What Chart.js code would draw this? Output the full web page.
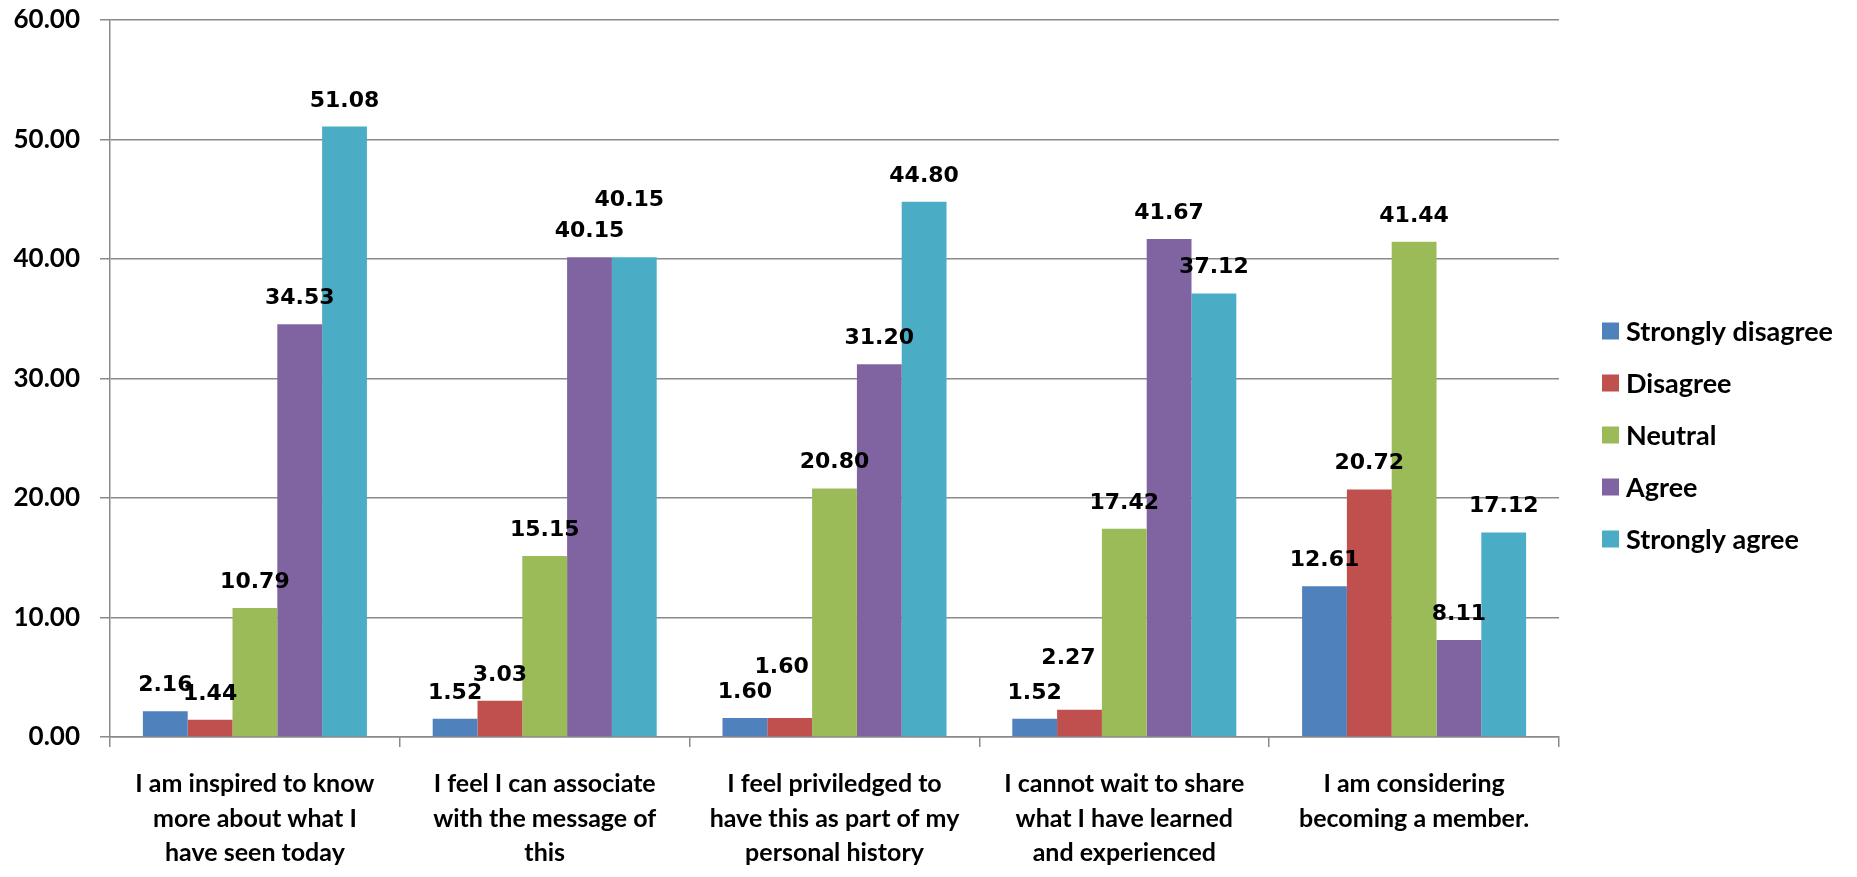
<!DOCTYPE html>
<html>
<head>
<meta charset="utf-8">
<title>Survey responses</title>
<script src="https://cdn.jsdelivr.net/npm/chart.js@4.4.1/dist/chart.umd.min.js"></script>
<style>
  html, body { margin: 0; padding: 0; background: #fff; }
  canvas { display: block; }
</style>
</head>
<body>
<canvas id="surveyChart" width="1857" height="877"></canvas>
<script>
// Question labels, already split into the lines they wrap to
const questions = [
    ['I am inspired to know', 'more about what I', 'have seen today'],
    ['I feel I can associate', 'with the message of', 'this'],
    ['I feel priviledged to', 'have this as part of my', 'personal history'],
    ['I cannot wait to share', 'what I have learned', 'and experienced'],
    ['I am considering', 'becoming a member.']
];

const responseLabels = ['Strongly disagree', 'Disagree', 'Neutral', 'Agree', 'Strongly agree'];

// Percent of respondents per answer
const stronglyDisagree = [2.16, 1.52, 1.60, 1.52, 12.61];
const disagree         = [1.44, 3.03, 1.60, 2.27, 20.72];
const neutral          = [10.79, 15.15, 20.80, 17.42, 41.44];
const agree            = [34.53, 40.15, 31.20, 41.67, 8.11];
const stronglyAgree    = [51.08, 40.15, 44.80, 37.12, 17.12];

const yTicks = [0, 10, 20, 30, 40, 50, 60];

const seriesColors = ['#4F81BD', '#C0504D', '#9BBB59', '#8064A2', '#4BACC6'];

// a few value labels were dragged off their default spot: [dx, dy] by "category-series"
const labelNudge = {
    '1-4': [-5, -31],
    '2-1': [-8, -25],
    '3-1': [-11, -26]
};

const gridColor = '#8a8a8a';
const axisFont = { family: 'Lato', weight: 'bold', size: 25 };

const allSeries = [stronglyDisagree, disagree, neutral, agree, stronglyAgree];

// values printed above each bar
const valueLabels = {
    id: 'valueLabels',
    afterDatasetsDraw(chart) {
        const ctx = chart.ctx;
        ctx.save();
        ctx.font = 'bold 22px "DejaVu Sans"';
        ctx.fillStyle = '#000';
        ctx.textAlign = 'center';
        ctx.textBaseline = 'alphabetic';
        chart.data.datasets.forEach((ds, s) => {
            const meta = chart.getDatasetMeta(s);
            meta.data.forEach((bar, c) => {
                const nudge = labelNudge[c + '-' + s] || [0, 0];
                ctx.fillText(ds.data[c].toFixed(2), bar.x + nudge[0], bar.y - 20 + nudge[1]);
            });
        });
        ctx.restore();
    }
};

// legend stacked on the right, beside the plot
const sideLegend = {
    id: 'sideLegend',
    afterDraw(chart) {
        const ctx = chart.ctx;
        const box = 17;
        const step = 52;
        const x = chart.chartArea.right + 43;
        const count = chart.data.datasets.length;
        const firstY = chart.height / 2 - 3.5 - step * (count - 1) / 2;
        ctx.save();
        ctx.font = 'bold 27px Lato';
        ctx.textAlign = 'left';
        ctx.textBaseline = 'middle';
        chart.data.datasets.forEach((ds, i) => {
            const cy = firstY + i * step;
            ctx.fillStyle = ds.backgroundColor;
            ctx.fillRect(x, cy - box / 2, box, box);
            ctx.fillStyle = '#000';
            ctx.fillText(ds.label, x + box + 7, cy + 1);
        });
        ctx.restore();
    }
};

const ctx = document.getElementById('surveyChart').getContext('2d');
new Chart(ctx, {
    type: 'bar',
    data: {
        labels: questions,
        datasets: allSeries.map((values, i) => ({
            label: responseLabels[i],
            data: values,
            backgroundColor: seriesColors[i],
            borderWidth: 0,
            barPercentage: 1.0,
            categoryPercentage: 0.773
        }))
    },
    options: {
        responsive: false,
        animation: false,
        devicePixelRatio: 1,
        layout: { padding: { top: 20, right: 298, bottom: 0, left: 0 } },
        plugins: {
            legend: { display: false },
            tooltip: { enabled: false }
        },
        scales: {
            x: {
                grid: {
                    offset: true,
                    drawOnChartArea: false,
                    drawTicks: true,
                    tickLength: 10,
                    color: gridColor,
                    lineWidth: 1.5
                },
                border: { display: true, color: gridColor, width: 1.5 },
                ticks: {
                    color: '#000',
                    font: { ...axisFont, lineHeight: '34.5px' },
                    padding: 20,
                    maxRotation: 0,
                    autoSkip: false
                },
                afterFit(scale) { scale.height = 140; }
            },
            y: {
                min: yTicks[0],
                max: yTicks[yTicks.length - 1],
                afterBuildTicks(scale) { scale.ticks = yTicks.map(v => ({ value: v })); },
                grid: {
                    color: gridColor,
                    lineWidth: 1.5,
                    drawTicks: true,
                    tickLength: 10
                },
                border: { display: true, color: gridColor, width: 1.5 },
                ticks: {
                    color: '#000',
                    font: { ...axisFont, size: 26 },
                    padding: 20,
                    callback: v => Number(v).toFixed(2)
                },
                afterFit(scale) {
                    scale.width = 110;
                    // the top label may overhang the plot; don't push the plot down for it
                    scale.paddingTop = 0;
                    scale.paddingBottom = 0;
                }
            }
        }
    },
    plugins: [valueLabels, sideLegend]
});
</script>
</body>
</html>
